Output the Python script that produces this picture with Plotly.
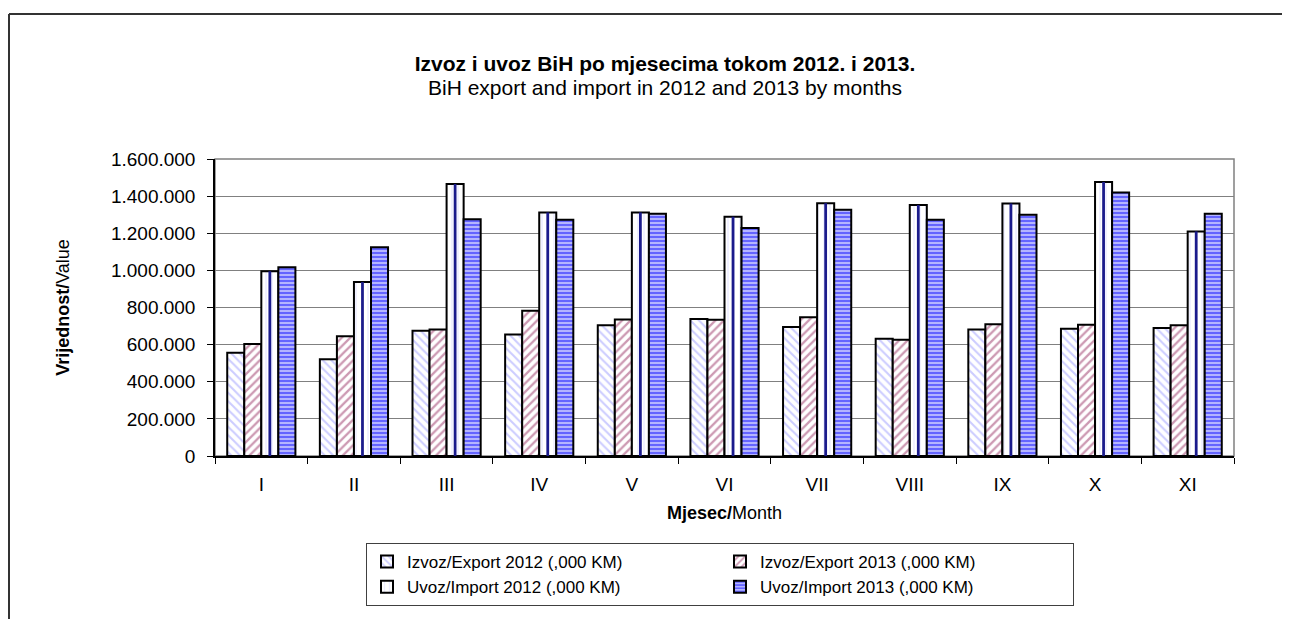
import plotly.graph_objects as go

months = ["I", "II", "III", "IV", "V", "VI", "VII", "VIII", "IX", "X", "XI"]
export_2012 = [556000, 521000, 675000, 655000, 705000, 738000, 695000, 632000, 682000, 686000, 690000]
export_2013 = [603000, 645000, 681000, 783000, 736000, 734000, 747000, 626000, 710000, 707000, 704000]
import_2012 = [995000, 937000, 1465000, 1312000, 1312000, 1289000, 1362000, 1352000, 1360000, 1476000, 1210000]
import_2013 = [1017000, 1124000, 1276000, 1273000, 1305000, 1228000, 1327000, 1273000, 1300000, 1420000, 1305000]

names = ["Izvoz/Export 2012 (,000 KM)", "Izvoz/Export 2013 (,000 KM)",
         "Uvoz/Import 2012 (,000 KM)", "Uvoz/Import 2013 (,000 KM)"]

FONT = "Liberation Sans, Arial, sans-serif"
W = 0.184  # bar width in category units

fig = go.Figure()
line = dict(color="black", width=2)

fig.add_trace(go.Bar(
    x=months, y=export_2012, name=names[0], width=W, offset=-2 * W,
    marker=dict(color="white", line=line,
                pattern=dict(shape="\\", fgcolor="#9a9aff", bgcolor="white", size=6, solidity=0.35)),
))
fig.add_trace(go.Bar(
    x=months, y=export_2013, name=names[1], width=W, offset=-W,
    marker=dict(color="white", line=line,
                pattern=dict(shape="/", fgcolor="#993366", bgcolor="white", size=6, solidity=0.38)),
))
fig.add_trace(go.Bar(
    x=months, y=import_2012, name=names[2], width=W, offset=0,
    marker=dict(color="white", line=line,
                pattern=dict(shape="|", fgcolor="#d8d8ff", bgcolor="white", size=6, solidity=0.25)),
))
# navy centre stripe of the import 2012 bars
fig.add_trace(go.Bar(
    x=months, y=import_2012, name=names[2], width=0.03, offset=W / 2 - 0.015,
    marker=dict(color="#1a1a8c", line=dict(width=0)), showlegend=False, hoverinfo="skip",
))
fig.add_trace(go.Bar(
    x=months, y=import_2013, name=names[3], width=W, offset=W,
    marker=dict(color="#2020ff", line=line,
                pattern=dict(shape="-", fgcolor="#0000ff", bgcolor="#c8c8ff", size=4, solidity=0.6)),
))

# page is rendered with an 8px body margin; work in figure-local pixels
L, R, T, B = 207, 64, 151, 171
pw = 1290 - L - R
ph = 619 - T - B


def px_x(px):
    return (px - L) / pw


def px_y(py):
    return (619 - B - py) / ph


shapes = [
    dict(type="rect", xref="paper", yref="paper", x0=0, x1=1, y0=0, y1=1,
         line=dict(color="#808080", width=1.5), layer="below"),
    dict(type="line", xref="paper", yref="paper", x0=px_x(1), x1=px_x(1300), y0=px_y(6), y1=px_y(6),
         line=dict(color="#333333", width=2)),
    dict(type="line", xref="paper", yref="paper", x0=px_x(1), x1=px_x(1), y0=px_y(6), y1=px_y(625),
         line=dict(color="#333333", width=2)),
]

annotations = [
    dict(text="BiH export and import in 2012 and 2013 by months", xref="paper", yref="paper",
         x=px_x(657), y=px_y(79), xanchor="center", yanchor="middle", showarrow=False,
         font=dict(family=FONT, size=21, color="black")),
]

fig.update_layout(
    width=1290, height=619,
    margin=dict(l=L, r=R, t=T, b=B),
    paper_bgcolor="white", plot_bgcolor="white",
    barmode="overlay",
    separators=",.",
    font=dict(family=FONT, size=18, color="black"),
    title=dict(
        text="<b>Izvoz i uvoz BiH po mjesecima tokom 2012. i 2013.</b>",
        x=px_x(657), xref="paper", xanchor="center",
        y=1 - 56 / 619, yref="container", yanchor="middle",
        font=dict(family=FONT, size=21, color="black"),
    ),
    xaxis=dict(
        type="category", categoryorder="array", categoryarray=months,
        showline=True, linecolor="black", linewidth=1.5,
        ticks="outside", tickson="boundaries", ticklen=6, tickcolor="black",
        tickfont=dict(size=19), ticklabelstandoff=10,
        title=dict(text="<b>Mjesec/</b>Month", font=dict(size=18), standoff=13),
        showgrid=False,
    ),
    yaxis=dict(
        range=[0, 1600000], dtick=200000, tickformat=",d",
        showline=True, linecolor="black", linewidth=1.5,
        ticks="outside", ticklen=6, tickcolor="black",
        gridcolor="#808080", gridwidth=1.2,
        tickfont=dict(size=19), ticklabelstandoff=8,
        title=dict(text="<b>Vrijednost/</b>Value", font=dict(size=18), standoff=37),
        zeroline=False,
    ),
    legend=dict(
        orientation="h", x=px_x(712), xanchor="center", y=px_y(535), yanchor="top",
        bordercolor="#404040", borderwidth=1, bgcolor="white",
        font=dict(size=17), entrywidth=308, itemwidth=30,
        traceorder="normal",
    ),
    shapes=shapes,
    annotations=annotations,
)

fig.write_html("out.html")
